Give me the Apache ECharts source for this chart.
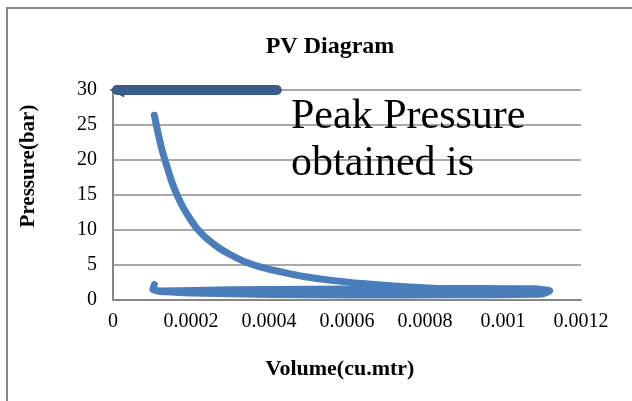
<!DOCTYPE html>
<html>
<head>
<meta charset="utf-8">
<script src="https://cdn.jsdelivr.net/npm/echarts@6/dist/echarts.min.js"></script>
<style>
html,body{margin:0;padding:0;background:#fff;}
#chart{width:632px;height:401px;}
</style>
</head>
<body>
<div id="chart"></div>
<script>
// Data
var expansionV = [0.000106, 0.000115, 0.000125, 0.000136, 0.00015, 0.000165, 0.00018, 0.0002, 0.000217, 0.00024, 0.00027, 0.0003, 0.000341, 0.00039, 0.00044, 0.000485, 0.00056, 0.00064, 0.00075, 0.000847, 0.00095, 0.00105, 0.0011];
var expansionP = [26.4, 24.0, 21.6, 19.5, 17.0, 14.9, 13.2, 11.4, 10.1, 8.8, 7.5, 6.5, 5.4, 4.55, 3.9, 3.4, 2.8, 2.35, 1.9, 1.62, 1.42, 1.27, 1.2];
var loopV = [0.000106, 0.000102, 0.00012, 0.0003, 0.0005, 0.0007, 0.0009, 0.00108, 0.00112, 0.0011, 0.0009, 0.0006, 0.0004, 0.0002, 0.00012];
var loopP = [2.2, 1.5, 1.3, 1.45, 1.55, 1.6, 1.65, 1.6, 1.3, 0.85, 0.75, 0.7, 0.8, 1.0, 1.2];
var arrowV = [0.00042, 0.00001];
var arrowP = [30, 30];
var xTicks = [0, 0.0002, 0.0004, 0.0006, 0.0008, 0.001, 0.0012];
var yTicks = [0, 5, 10, 15, 20, 25, 30];
var titleText = 'PV Diagram';
var xName = 'Volume(cu.mtr)';
var yName = 'Pressure(bar)';
var noteText = 'Peak Pressure\nobtained is';

function pairs(xs, ys){ return xs.map(function(x,i){ return [x, ys[i]]; }); }

var serif = 'Liberation Serif, Times New Roman, serif';
var chart = echarts.init(document.getElementById('chart'), null, {renderer:'canvas'});
chart.setOption({
  animation: false,
  backgroundColor: '#ffffff',
  title: {
    text: titleText, left: 325, top: 30, textAlign: 'center',
    textStyle: {fontFamily: serif, fontWeight: 'bold', fontSize: 24, color: '#000'}
  },
  grid: {left: 113, right: 51, top: 90, bottom: 101, containLabel: false},
  xAxis: {
    type: 'value', min: xTicks[0], max: xTicks[xTicks.length-1], interval: 0.0002,
    axisLine: {show: true, lineStyle: {color: '#868686', width: 2}},
    axisTick: {show: false},
    splitLine: {show: false},
    axisLabel: {
      fontFamily: serif, fontSize: 20, color: '#000', margin: 12,
      formatter: function(v){ return String(parseFloat(v.toFixed(4))); }
    }
  },
  yAxis: {
    type: 'value', min: yTicks[0], max: yTicks[yTicks.length-1], interval: 5,
    axisLine: {show: true, lineStyle: {color: '#868686', width: 2}},
    axisTick: {show: false},
    splitLine: {show: true, lineStyle: {color: '#8c8c8c', width: 1.5}},
    axisLabel: {fontFamily: serif, fontSize: 20, color: '#000', margin: 16}
  },
  graphic: [
    {type: 'rect', shape: {x: 7, y: 8, width: 640, height: 420}, style: {fill: 'none', stroke: '#8a8a8a', lineWidth: 2}, z: 0, silent: true},
    {type: 'text', x: 29, y: 166, rotation: Math.PI/2,
     style: {text: yName, fontFamily: serif, fontWeight: 'bold', fontSize: 21, fill: '#000', textAlign: 'center', textVerticalAlign: 'middle'}},
    {type: 'text', x: 340, y: 369,
     style: {text: xName, fontFamily: serif, fontWeight: 'bold', fontSize: 22, fill: '#000', textAlign: 'center', textVerticalAlign: 'middle'}},
    {type: 'text', x: 291, y: 93, z: 10,
     style: {text: noteText, fontFamily: serif, fontSize: 42, lineHeight: 47, fill: '#000', textAlign: 'left', textVerticalAlign: 'top'}}
  ],
  series: [
    {
      type: 'line', name: 'expansion', data: pairs(expansionV, expansionP),
      smooth: 0.3, showSymbol: false, symbol: 'none',
      lineStyle: {color: '#4a7ebb', width: 7, cap: 'round', join: 'round'}
    },
    {
      type: 'line', name: 'loop', data: pairs(loopV, loopP),
      smooth: 0.2, showSymbol: false, symbol: 'none',
      lineStyle: {color: '#4a7ebb', width: 7, cap: 'round', join: 'round'}
    },
    {
      type: 'lines', coordinateSystem: 'cartesian2d', z: 5,
      data: [{coords: pairs(arrowV, arrowP)}],
      symbol: ['none', 'triangle'], symbolSize: 15,
      lineStyle: {color: '#385d8a', width: 10, cap: 'round', opacity: 1}
    }
  ]
});
</script>
</body>
</html>
